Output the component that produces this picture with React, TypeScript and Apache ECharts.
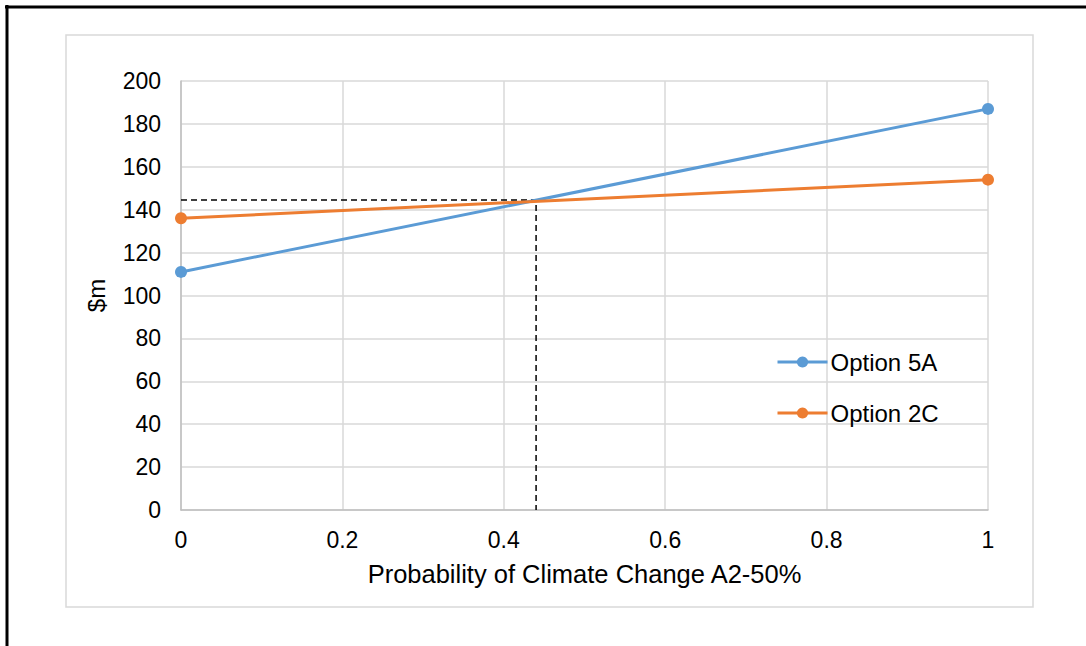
import React, { useEffect, useRef } from "react";
import * as echarts from "echarts";

const xTicks = [0, 0.2, 0.4, 0.6, 0.8, 1];
const probability = [0, 1];
const option5A = [111, 187];
const option2C = [136, 154];
const breakEvenX = 0.44;
const breakEvenY = 144.5;
const seriesNames = ["Option 5A", "Option 2C"];

export default function App() {
  const ref = useRef<HTMLDivElement>(null);
  useEffect(() => {
    document.body.style.margin = "0";
    const chart = echarts.init(ref.current!, null, { renderer: "svg" });
    const font = "'Liberation Sans', Arial, sans-serif";
    chart.setOption({
      animation: false,
      backgroundColor: "#ffffff",
      textStyle: { fontFamily: font },
      graphic: [
        { type: "line", shape: { x1: 5, y1: 7, x2: 1086, y2: 7 }, style: { stroke: "#000", lineWidth: 3 } },
        { type: "line", shape: { x1: 7, y1: 5, x2: 7, y2: 646 }, style: { stroke: "#000", lineWidth: 3 } },
        { type: "rect", shape: { x: 66, y: 35, width: 967, height: 572 }, style: { fill: "none", stroke: "#d9d9d9", lineWidth: 1.5 }, z: -1 },
      ],
      grid: { left: 181, right: 98, top: 81, bottom: 136, containLabel: false },
      legend: {
        orient: "vertical",
        left: 776,
        top: 350,
        padding: 0,
        itemWidth: 50,
        itemHeight: 14,
        itemGap: 27,
        data: seriesNames,
        lineStyle: { width: 3 },
        textStyle: { fontSize: 24, color: "#000", fontFamily: font, padding: [0, 0, 0, -2] },
      },
      xAxis: {
        type: "value",
        min: 0,
        max: 1,
        interval: 0.2,
        name: "Probability of Climate Change A2-50%",
        nameLocation: "middle",
        nameGap: 51,
        nameTextStyle: { fontSize: 25.5, color: "#000", fontFamily: font },
        axisLine: { show: true, lineStyle: { color: "#bfbfbf", width: 1.5 } },
        axisTick: { show: false },
        axisLabel: {
          fontSize: 23,
          color: "#000",
          margin: 18,
          formatter: (v: number) => {
            const t = xTicks.find((x) => Math.abs(x - v) < 1e-9);
            return t === undefined ? "" : String(t);
          },
        },
        splitLine: { show: true, lineStyle: { color: "#d9d9d9", width: 1.5 } },
      },
      yAxis: {
        type: "value",
        min: 0,
        max: 200,
        interval: 20,
        name: "$m",
        nameLocation: "middle",
        nameGap: 73,
        nameRotate: 90,
        nameTextStyle: { fontSize: 24, color: "#000", fontFamily: font },
        axisLine: { show: true, lineStyle: { color: "#bfbfbf", width: 1.5 } },
        axisTick: { show: false },
        axisLabel: { fontSize: 23, color: "#000", margin: 20 },
        splitLine: { show: true, lineStyle: { color: "#d9d9d9", width: 1.5 } },
      },
      series: [
        {
          name: seriesNames[0],
          type: "line",
          data: probability.map((x, i) => [x, option5A[i]]),
          color: "#5b9bd5",
          lineStyle: { width: 3, color: "#5b9bd5" },
          symbol: "circle",
          symbolSize: 12,
          itemStyle: { color: "#5b9bd5" },
          z: 3,
        },
        {
          name: seriesNames[1],
          type: "line",
          data: probability.map((x, i) => [x, option2C[i]]),
          color: "#ed7d31",
          lineStyle: { width: 3, color: "#ed7d31" },
          symbol: "circle",
          symbolSize: 12,
          itemStyle: { color: "#ed7d31" },
          z: 4,
        },
        {
          name: "breakeven",
          type: "line",
          data: [
            [0, breakEvenY],
            [breakEvenX, breakEvenY],
            [breakEvenX, 0],
          ],
          symbol: "none",
          lineStyle: { color: "#000", width: 1.5, type: [6, 4] },
          z: 2,
          silent: true,
        },
      ],
    });
    return () => chart.dispose();
  }, []);
  return <div ref={ref} style={{ width: 1086, height: 646 }} />;
}
